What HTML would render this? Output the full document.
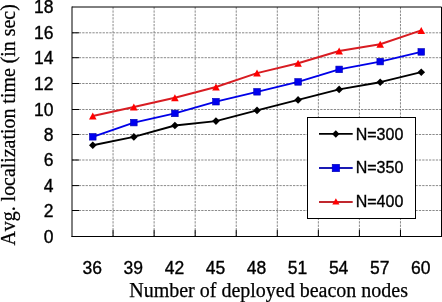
<!DOCTYPE html><html><head><meta charset="utf-8"><style>html,body{margin:0;padding:0;background:#fff;overflow:hidden}svg{display:block;will-change:transform}</style></head><body>
<svg width="442" height="302" viewBox="0 0 442 302">
<rect width="442" height="302" fill="#fff"/>
<path d="M72.00 210.50H441.50M72.00 185.60H441.50M72.00 160.00H441.50M72.00 134.50H441.50M72.00 109.50H441.50M72.00 83.50H441.50M72.00 57.70H441.50M72.00 32.80H441.50M113.06 7.00V236.50M154.12 7.00V236.50M195.18 7.00V236.50M236.24 7.00V236.50M277.30 7.00V236.50M318.36 7.00V236.50M359.42 7.00V236.50M400.48 7.00V236.50" stroke="#8a8a8a" stroke-width="1" stroke-dasharray="2.3 1.1" fill="none"/>
<path d="M72.00 210.50H79M72.00 185.60H79M72.00 160.00H79M72.00 134.50H79M72.00 109.50H79M72.00 83.50H79M72.00 57.70H79M72.00 32.80H79M113.06 236.50V229.9M154.12 236.50V229.9M195.18 236.50V229.9M236.24 236.50V229.9M277.30 236.50V229.9M318.36 236.50V229.9M359.42 236.50V229.9M400.48 236.50V229.9" stroke="#000" stroke-width="1" fill="none"/>
<path d="M72.00 7.00H441.50" stroke="#000" stroke-width="1"/>
<path d="M72.00 6.50V237.00" stroke="#000" stroke-width="1"/>
<path d="M71.50 236.50H442.00" stroke="#000" stroke-width="1"/>
<path d="M441.50 7.00V236.50" stroke="#000" stroke-width="1"/>
<polyline points="92.78,145.20 133.84,136.90 174.90,125.50 215.96,121.10 257.02,110.40 298.08,99.90 339.14,89.40 380.20,82.20 421.26,72.20" fill="none" stroke="#000" stroke-width="1.9" stroke-linejoin="round"/>
<polyline points="92.78,136.80 133.84,122.60 174.90,113.40 215.96,101.70 257.02,91.80 298.08,81.90 339.14,69.40 380.20,61.60 421.26,51.90" fill="none" stroke="#0000e8" stroke-width="1.9" stroke-linejoin="round"/>
<polyline points="92.78,116.00 133.84,107.10 174.90,97.80 215.96,87.00 257.02,73.10 298.08,63.30 339.14,51.00 380.20,44.20 421.26,30.40" fill="none" stroke="#d81c22" stroke-width="2.0" stroke-linejoin="round"/>
<path d="M92.78 141.40L96.58 145.20L92.78 149.00L88.98 145.20Z" fill="#000"/>
<path d="M133.84 133.10L137.64 136.90L133.84 140.70L130.04 136.90Z" fill="#000"/>
<path d="M174.90 121.70L178.70 125.50L174.90 129.30L171.10 125.50Z" fill="#000"/>
<path d="M215.96 117.30L219.76 121.10L215.96 124.90L212.16 121.10Z" fill="#000"/>
<path d="M257.02 106.60L260.82 110.40L257.02 114.20L253.22 110.40Z" fill="#000"/>
<path d="M298.08 96.10L301.88 99.90L298.08 103.70L294.28 99.90Z" fill="#000"/>
<path d="M339.14 85.60L342.94 89.40L339.14 93.20L335.34 89.40Z" fill="#000"/>
<path d="M380.20 78.40L384.00 82.20L380.20 86.00L376.40 82.20Z" fill="#000"/>
<path d="M421.26 68.40L425.06 72.20L421.26 76.00L417.46 72.20Z" fill="#000"/>
<rect x="89.48" y="133.50" width="6.6" height="6.6" fill="#0000f0" stroke="#0000b0" stroke-width="0.6"/>
<rect x="130.54" y="119.30" width="6.6" height="6.6" fill="#0000f0" stroke="#0000b0" stroke-width="0.6"/>
<rect x="171.60" y="110.10" width="6.6" height="6.6" fill="#0000f0" stroke="#0000b0" stroke-width="0.6"/>
<rect x="212.66" y="98.40" width="6.6" height="6.6" fill="#0000f0" stroke="#0000b0" stroke-width="0.6"/>
<rect x="253.72" y="88.50" width="6.6" height="6.6" fill="#0000f0" stroke="#0000b0" stroke-width="0.6"/>
<rect x="294.78" y="78.60" width="6.6" height="6.6" fill="#0000f0" stroke="#0000b0" stroke-width="0.6"/>
<rect x="335.84" y="66.10" width="6.6" height="6.6" fill="#0000f0" stroke="#0000b0" stroke-width="0.6"/>
<rect x="376.90" y="58.30" width="6.6" height="6.6" fill="#0000f0" stroke="#0000b0" stroke-width="0.6"/>
<rect x="417.96" y="48.60" width="6.6" height="6.6" fill="#0000f0" stroke="#0000b0" stroke-width="0.6"/>
<path d="M92.78 112.50L96.58 119.50L88.98 119.50Z" fill="#ff0000"/>
<path d="M133.84 103.60L137.64 110.60L130.04 110.60Z" fill="#ff0000"/>
<path d="M174.90 94.30L178.70 101.30L171.10 101.30Z" fill="#ff0000"/>
<path d="M215.96 83.50L219.76 90.50L212.16 90.50Z" fill="#ff0000"/>
<path d="M257.02 69.60L260.82 76.60L253.22 76.60Z" fill="#ff0000"/>
<path d="M298.08 59.80L301.88 66.80L294.28 66.80Z" fill="#ff0000"/>
<path d="M339.14 47.50L342.94 54.50L335.34 54.50Z" fill="#ff0000"/>
<path d="M380.20 40.70L384.00 47.70L376.40 47.70Z" fill="#ff0000"/>
<path d="M421.26 26.90L425.06 33.90L417.46 33.90Z" fill="#ff0000"/>
<text x="53.5" y="242.75" text-anchor="end" font-family="Liberation Sans" font-size="17.5" fill="#000" stroke="#000" stroke-width="0.35">0</text>
<text x="53.5" y="216.75" text-anchor="end" font-family="Liberation Sans" font-size="17.5" fill="#000" stroke="#000" stroke-width="0.35">2</text>
<text x="53.5" y="191.85" text-anchor="end" font-family="Liberation Sans" font-size="17.5" fill="#000" stroke="#000" stroke-width="0.35">4</text>
<text x="53.5" y="166.25" text-anchor="end" font-family="Liberation Sans" font-size="17.5" fill="#000" stroke="#000" stroke-width="0.35">6</text>
<text x="53.5" y="140.75" text-anchor="end" font-family="Liberation Sans" font-size="17.5" fill="#000" stroke="#000" stroke-width="0.35">8</text>
<text x="53.5" y="115.75" text-anchor="end" font-family="Liberation Sans" font-size="17.5" fill="#000" stroke="#000" stroke-width="0.35">10</text>
<text x="53.5" y="89.75" text-anchor="end" font-family="Liberation Sans" font-size="17.5" fill="#000" stroke="#000" stroke-width="0.35">12</text>
<text x="53.5" y="63.95" text-anchor="end" font-family="Liberation Sans" font-size="17.5" fill="#000" stroke="#000" stroke-width="0.35">14</text>
<text x="53.5" y="39.05" text-anchor="end" font-family="Liberation Sans" font-size="17.5" fill="#000" stroke="#000" stroke-width="0.35">16</text>
<text x="53.5" y="13.25" text-anchor="end" font-family="Liberation Sans" font-size="17.5" fill="#000" stroke="#000" stroke-width="0.35">18</text>
<text x="92.28" y="274.4" text-anchor="middle" font-family="Liberation Sans" font-size="17.5" fill="#000" stroke="#000" stroke-width="0.35">36</text>
<text x="133.34" y="274.4" text-anchor="middle" font-family="Liberation Sans" font-size="17.5" fill="#000" stroke="#000" stroke-width="0.35">39</text>
<text x="174.40" y="274.4" text-anchor="middle" font-family="Liberation Sans" font-size="17.5" fill="#000" stroke="#000" stroke-width="0.35">42</text>
<text x="215.46" y="274.4" text-anchor="middle" font-family="Liberation Sans" font-size="17.5" fill="#000" stroke="#000" stroke-width="0.35">45</text>
<text x="256.52" y="274.4" text-anchor="middle" font-family="Liberation Sans" font-size="17.5" fill="#000" stroke="#000" stroke-width="0.35">48</text>
<text x="297.58" y="274.4" text-anchor="middle" font-family="Liberation Sans" font-size="17.5" fill="#000" stroke="#000" stroke-width="0.35">51</text>
<text x="338.64" y="274.4" text-anchor="middle" font-family="Liberation Sans" font-size="17.5" fill="#000" stroke="#000" stroke-width="0.35">54</text>
<text x="379.70" y="274.4" text-anchor="middle" font-family="Liberation Sans" font-size="17.5" fill="#000" stroke="#000" stroke-width="0.35">57</text>
<text x="420.76" y="274.4" text-anchor="middle" font-family="Liberation Sans" font-size="17.5" fill="#000" stroke="#000" stroke-width="0.35">60</text>
<text x="268.65" y="297.2" text-anchor="middle" font-family="Liberation Serif" font-size="20" fill="#000" stroke="#000" stroke-width="0.25">Number of deployed beacon nodes</text>
<text transform="translate(15.1 124.9) rotate(-90)" text-anchor="middle" font-family="Liberation Serif" font-size="19.9" fill="#000" stroke="#000" stroke-width="0.25" style="font-kerning:none">Avg. localization time (in sec)</text>
<rect x="307.5" y="117.5" width="108" height="101" fill="#fff" stroke="#000" stroke-width="1"/>
<path d="M319 133.80H352.7" stroke="#000" stroke-width="1.8"/>
<path d="M335.80 130.30L339.50 134.00L335.80 137.70L332.10 134.00Z" fill="#000"/>
<text x="355.7" y="139.80" font-family="Liberation Sans" font-size="16.0" fill="#000" stroke="#000" stroke-width="0.35">N=300</text>
<path d="M319 168.00H352.7" stroke="#1a1ab4" stroke-width="1.8"/>
<rect x="332.20" y="164.30" width="7.4" height="7.4" fill="#0000f0" stroke="#0000b0" stroke-width="0.6"/>
<text x="355.7" y="172.60" font-family="Liberation Sans" font-size="16.0" fill="#000" stroke="#000" stroke-width="0.35">N=350</text>
<path d="M319 202.00H352.7" stroke="#c0282e" stroke-width="1.8"/>
<path d="M335.90 198.20L339.50 204.60L332.30 204.60Z" fill="#ff0000"/>
<text x="355.7" y="206.80" font-family="Liberation Sans" font-size="16.0" fill="#000" stroke="#000" stroke-width="0.35">N=400</text>
</svg></body></html>
